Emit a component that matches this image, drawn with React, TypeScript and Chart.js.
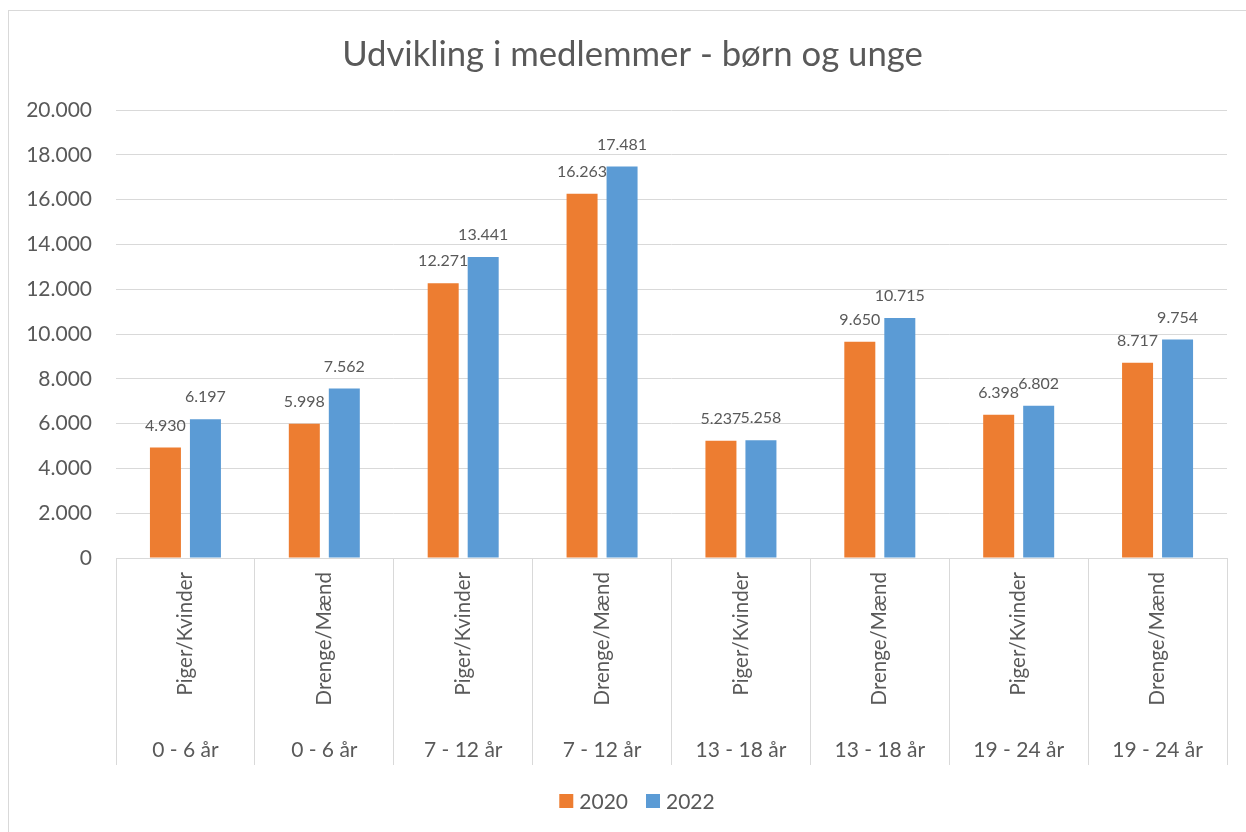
import React, { useEffect, useRef } from "react";
import { Chart, registerables } from "chart.js";

Chart.register(...registerables);

const title = "Udvikling i medlemmer - børn og unge";
const genders = ["Piger/Kvinder", "Drenge/Mænd", "Piger/Kvinder", "Drenge/Mænd", "Piger/Kvinder", "Drenge/Mænd", "Piger/Kvinder", "Drenge/Mænd"];
const ageGroups = ["0 - 6 år", "0 - 6 år", "7 - 12 år", "7 - 12 år", "13 - 18 år", "13 - 18 år", "19 - 24 år", "19 - 24 år"];
const values2020 = [4930, 5998, 12271, 16263, 5237, 9650, 6398, 8717];
const values2022 = [6197, 7562, 13441, 17481, 5258, 10715, 6802, 9754];
const seriesNames = ["2020", "2022"];
const seriesColors = ["#ED7D31", "#5B9BD5"];
const yTicks = { min: 0, max: 20000, step: 2000 };

const FONT = "Lato, 'Noto Sans', sans-serif";
const GRAY = "#595959";
const GRID = "#d9d9d9";

const fmt = (v: number) => String(Math.round(v)).replace(/\B(?=(\d{3})+(?!\d))/g, ".");

const labelsPlugin = {
  id: "customLabels",
  afterDatasetsDraw(chart: any) {
    const ctx = chart.ctx;
    ctx.save();
    ctx.font = `16px ${FONT}`;
    ctx.fillStyle = GRAY;
    ctx.textAlign = "center";
    ctx.textBaseline = "middle";
    chart.data.datasets.forEach((ds: any, di: number) => {
      const meta = chart.getDatasetMeta(di);
      meta.data.forEach((el: any, i: number) => {
        ctx.fillText(fmt(ds.data[i]), el.x, el.y - 22);
      });
    });
    ctx.restore();
  },
  afterDraw(chart: any) {
    const ctx = chart.ctx;
    const xs = chart.scales.x;
    const bottom = chart.chartArea.bottom;
    const W = chart.width;
    ctx.save();
    ctx.fillStyle = GRAY;

    // title
    ctx.font = `34.7px ${FONT}`;
    ctx.textAlign = "center";
    ctx.textBaseline = "middle";
    ctx.fillText(title, W / 2 + 4.5, 44);

    // rotated category labels
    ctx.font = `20.5px ${FONT}`;
    genders.forEach((g, i) => {
      const x = xs.getPixelForValue(i);
      ctx.save();
      ctx.translate(x, bottom + 14);
      ctx.rotate(-Math.PI / 2);
      ctx.textAlign = "right";
      ctx.textBaseline = "middle";
      ctx.fillText(g, 0, 0);
      ctx.restore();
    });

    // group labels
    ctx.font = `21px ${FONT}`;
    ctx.textAlign = "center";
    ctx.textBaseline = "middle";
    ageGroups.forEach((a, i) => {
      const x = xs.getPixelForValue(i);
      ctx.fillText(a, x, bottom + 192);
    });

    // legend
    ctx.font = `21px ${FONT}`;
    const box = 14, gap = 6, itemGap = 18;
    const widths = seriesNames.map((n) => ctx.measureText(n).width);
    const total = widths.reduce((s, w) => s + box + gap + w, 0) + itemGap * (seriesNames.length - 1);
    let lx = W / 2 + 9 - total / 2;
    const ly = 790;
    ctx.textAlign = "left";
    seriesNames.forEach((n, i) => {
      ctx.fillStyle = seriesColors[i];
      ctx.fillRect(lx, ly - box / 2, box, box);
      ctx.fillStyle = GRAY;
      ctx.fillText(n, lx + box + gap, ly + 1);
      lx += box + gap + widths[i] + itemGap;
    });
    ctx.restore();
  },
};

export default function App() {
  const ref = useRef<HTMLCanvasElement | null>(null);
  useEffect(() => {
    if (!ref.current) return;
    const chart = new Chart(ref.current, {
      type: "bar",
      data: {
        labels: genders.map((g, i) => `${g} ${ageGroups[i]}`),
        datasets: [
          { label: seriesNames[0], data: values2020, backgroundColor: seriesColors[0], categoryPercentage: 0.576, barPercentage: 0.775 },
          { label: seriesNames[1], data: values2022, backgroundColor: seriesColors[1], categoryPercentage: 0.576, barPercentage: 0.775 },
        ],
      },
      options: {
        responsive: false,
        animation: false,
        layout: { padding: { left: 0, right: 20, top: 99, bottom: 68 } },
        plugins: {
          title: { display: false },
          legend: { display: false },
          tooltip: { enabled: false },
        },
        scales: {
          x: {
            ticks: { display: false },
            grid: { offset: true, drawOnChartArea: false, tickLength: 207, color: GRID, lineWidth: 1 },
            border: { display: true, color: GRID, width: 1 },
            afterFit: (s: any) => { s.height = 207; },
          },
          y: {
            min: yTicks.min,
            max: yTicks.max,
            ticks: {
              stepSize: yTicks.step,
              color: GRAY,
              padding: 24,
              font: { family: FONT, size: 21 },
              callback: (v: any) => fmt(Number(v)),
            },
            grid: { color: GRID, lineWidth: 1, drawTicks: false },
            border: { display: false },
            afterFit: (s: any) => { s.width = 107; },
          },
        },
      },
      plugins: [labelsPlugin],
    } as any);
    return () => chart.destroy();
  }, []);
  return (
    <div
      style={{
        position: "fixed",
        left: 8,
        top: 10,
        width: 1240,
        height: 824,
        border: `1px solid ${GRID}`,
        boxSizing: "border-box",
        background: "#fff",
      }}
    >
      <canvas ref={ref} width={1238} height={822} style={{ display: "block" }} />
    </div>
  );
}
